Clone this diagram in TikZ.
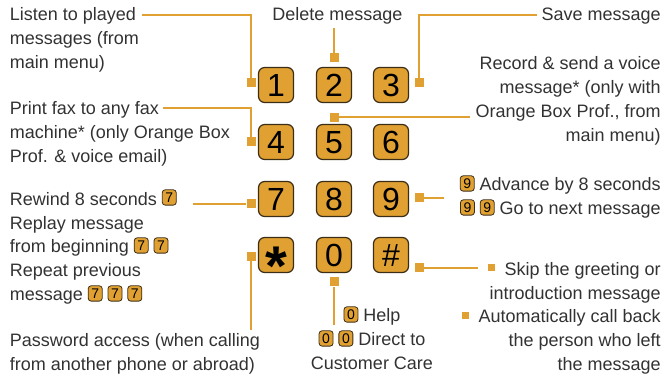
\documentclass[tikz,border=0pt]{standalone}
\usepackage{fontspec}
\setmainfont{Liberation Sans}
\usetikzlibrary{positioning}
\definecolor{keyorange}{RGB}{225,161,50}
\definecolor{keyedge}{RGB}{60,45,22}
\definecolor{txtgray}{RGB}{50,50,50}
\tikzset{minikey/.style={draw=keyedge,line width=.6pt,fill=keyorange,rounded corners=2.2pt,
    minimum width=10.5pt,minimum height=11.5pt,inner sep=0pt,anchor=center,align=center,
    text=black,text height=7.5pt,text depth=0pt,font=\fontsize{10.5}{10.5}\selectfont}}
\newcommand{\minikey}[1]{\tikz[baseline={([yshift=.4pt]mk.south)}]\node[minikey] (mk) {#1};}
\newcommand{\sqbullet}{{\color{keyorange}\rule[3pt]{5.25pt}{5.25pt}}\hspace{7.5pt}}
\newcommand{\keystar}{\raisebox{-14pt}{\fontsize{42}{42}\selectfont\bfseries *}}
\begin{document}
\begin{tikzpicture}[x=0.75pt,y=-0.75pt,
    key/.style={draw=keyedge,line width=.9pt,fill=keyorange,rounded corners=4.5pt,
        minimum size=26.2pt,inner sep=0pt,text height=17.2pt,text depth=0pt,
        font=\fontsize{24}{24}\selectfont},
    dot/.style={fill=keyorange,minimum size=6.75pt,inner sep=0pt},
    link/.style={keyorange,line width=1.5pt},
    txt/.style={text=txtgray,inner sep=0pt,font=\fontsize{13.5}{18}\selectfont}]
  \useasboundingbox (0,0) rectangle (665,374);
  % keypad
  \foreach \n/\x/\y in {1/276/85,2/334/85,3/391/85,4/276/142,5/334/142,6/391/142,
      7/276/199,8/334/199,9/391/199,0/334/255}
    \node[key] (k\n) at (\x,\y) {\n};
  \node[key] (kstar) at (276,255) {\keystar};
  \node[key] (khash) at (391,255) {\#};
  % end squares
  \node[dot,left=1.5pt of k1,yshift=1.9pt] (s1) {};
  \node[dot,above=3.5pt of k2] (s2) {};
  \node[dot,right=4pt of k3,yshift=1.9pt] (s3) {};
  \node[dot,left=1.5pt of k4] (s4) {};
  \node[dot,above=1.5pt of k5] (s5) {};
  \node[dot,left=1.5pt of k7,yshift=-3.4pt] (s7) {};
  \node[dot,right=4pt of k9,yshift=1.1pt] (s9) {};
  \node[dot,left=1.5pt of kstar,yshift=-1.1pt] (sstar) {};
  \node[dot,below=3pt of k0] (s0) {};
  \node[dot,right=4pt of khash,yshift=-9.4pt] (shash) {};
  % labels (base = last line)
  \node[txt,anchor=base west,align=left] (listen) at (9.5,69) {Listen to played\\messages (from\\main menu)};
  \node[txt,anchor=base west,align=left] (printfax) at (9.5,162.5) {Print fax to any fax\\machine* (only Orange Box\\Prof. \& voice email)};
  \node[txt,anchor=base west,align=left] (rewind) at (9.5,301) {Rewind 8 seconds \minikey{7}\\Replay message\\from beginning \minikey{7} \minikey{7}\\Repeat previous\\message \minikey{7} \minikey{7} \minikey{7}};
  \node[txt,anchor=base west,align=left] (password) at (9.5,371) {Password access (when calling\\from another phone or abroad)};
  \node[txt,anchor=base] (delete) at (337.5,21) {Delete message};
  \node[txt,anchor=base east] (save) at (661,21) {Save message};
  \node[txt,anchor=base east,align=right] (record) at (661,142) {Record \& send a voice\\message* (only with\\Orange Box Prof., from\\main menu)};
  \node[txt,anchor=base east,align=right] (advance) at (661,215) {\minikey{9} Advance by 8 seconds\\\minikey{9} \minikey{9} Go to next message};
  \node[txt,anchor=base east,align=right] (skip) at (661,371) {\sqbullet Skip the greeting or\\introduction message\\\sqbullet Automatically call back\\the person who left\\the message};
  \node[txt,anchor=base,align=center] (help) at (372,370) {\minikey{0} Help\\\minikey{0} \minikey{0} Direct to\\Customer Care};
  % connectors
  \coordinate (c1) at (142,15);
  \coordinate (c2) at (334,28);
  \coordinate (c3) at (537,15);
  \coordinate (c4) at (163,108.5);
  \coordinate (c5) at (470,117);
  \coordinate (c7) at (193,203.5);
  \coordinate (c9) at (444,197.5);
  \coordinate (cstar) at (251.5,330);
  \coordinate (c0) at (335,325);
  \coordinate (chash) at (478,267.5);
  \draw[link] (c1) -| (s1);
  \draw[link] (c2) -- (s2);
  \draw[link] (c3) -| (s3);
  \draw[link] (c4) -| (s4);
  \draw[link] (c5 |- s5) -- (s5);
  \draw[link] (c7 |- s7) -- (s7);
  \draw[link] (s9) -- (s9 -| c9);
  \draw[link] (sstar) -- (sstar |- cstar);
  \draw[link] (s0) -- (s0 |- c0);
  \draw[link] (shash) -- (shash -| chash);
\end{tikzpicture}
\end{document}
